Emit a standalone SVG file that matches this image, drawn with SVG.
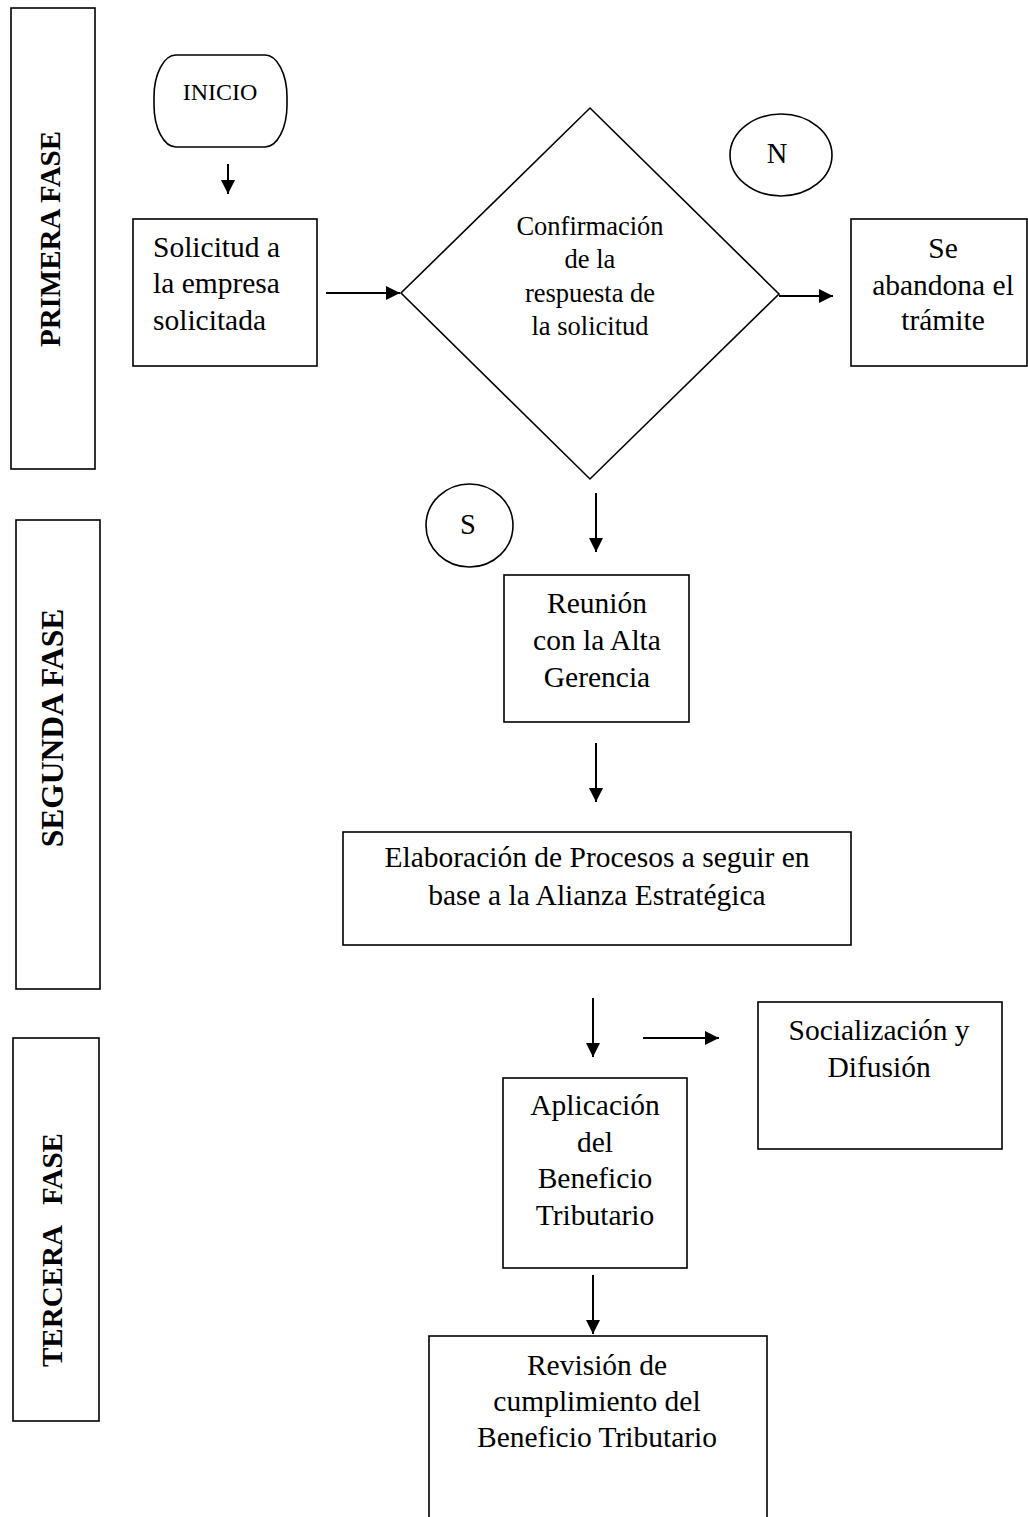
<svg xmlns="http://www.w3.org/2000/svg" width="1028" height="1517" viewBox="0 0 1028 1517">
<style>
.box{fill:#fff;stroke:#000;stroke-width:1.6}
.t{font-family:"Liberation Serif","Times New Roman",serif;font-size:29.5px;text-anchor:middle;fill:#000}
.d{font-size:26.5px}
.ph{font-family:"Liberation Serif","Times New Roman",serif;font-weight:bold;font-size:29px;text-anchor:middle;fill:#000;white-space:pre}
.c{stroke:#000;stroke-width:2;fill:none}
</style>
<defs>
<marker id="ah" markerUnits="userSpaceOnUse" markerWidth="16" markerHeight="16" refX="14" refY="7" orient="auto">
<path d="M0,0 L14,7 L0,14 Z" fill="#000"/>
</marker>
</defs>
<g id="fase1">
<rect class="box" x="11" y="8" width="84" height="461"/>
<text class="ph" transform="translate(60,239) rotate(-90)">PRIMERA FASE</text>
</g>
<g id="fase2">
<rect class="box" x="16" y="520" width="84" height="469"/>
<text class="ph" transform="translate(63,728) rotate(-90)" style="font-size:31.5px">SEGUNDA FASE</text>
</g>
<g id="fase3">
<rect class="box" x="13" y="1038" width="86" height="383"/>
<text class="ph" transform="translate(62,1250) rotate(-90)">TERCERA   FASE</text>
</g>
<g id="inicio">
<rect class="box" x="154" y="55" width="133" height="92" rx="22" ry="42"/>
<text class="t" x="220" y="100" style="font-size:24px">INICIO</text>
</g>
<g id="solicitud">
<rect class="box" x="133" y="219" width="184" height="147"/>
<text class="t" x="153" y="257" style="text-anchor:start">Solicitud a</text>
<text class="t" x="153" y="293" style="text-anchor:start">la empresa</text>
<text class="t" x="153" y="330" style="text-anchor:start">solicitada</text>
</g>
<g id="confirmacion">
<polygon class="box" points="590,108 779,294 590,479 401,293"/>
<text class="t d" x="590" y="235">Confirmación</text>
<text class="t d" x="590" y="268">de la</text>
<text class="t d" x="590" y="302">respuesta de</text>
<text class="t d" x="590" y="335">la solicitud</text>
</g>
<g id="n">
<ellipse class="box" cx="781" cy="155" rx="51" ry="41"/>
<text class="t" x="777" y="163" style="font-size:28.5px">N</text>
</g>
<g id="abandona">
<rect class="box" x="851" y="219" width="176" height="147"/>
<text class="t" x="943" y="258">Se</text>
<text class="t" x="943" y="295">abandona el</text>
<text class="t" x="943" y="330">trámite</text>
</g>
<g id="s">
<ellipse class="box" cx="469.5" cy="525.5" rx="43.5" ry="41.5"/>
<text class="t" x="468" y="534" style="font-size:28.5px">S</text>
</g>
<g id="reunion">
<rect class="box" x="504" y="575" width="185" height="147"/>
<text class="t" x="597" y="613">Reunión</text>
<text class="t" x="597" y="650">con la Alta</text>
<text class="t" x="597" y="687">Gerencia</text>
</g>
<g id="elaboracion">
<rect class="box" x="343" y="832" width="508" height="113"/>
<text class="t" x="597" y="867">Elaboración de Procesos a seguir en</text>
<text class="t" x="597" y="905">base a la Alianza Estratégica</text>
</g>
<g id="socializacion">
<rect class="box" x="758" y="1002" width="244" height="147"/>
<text class="t" x="879" y="1040">Socialización y</text>
<text class="t" x="879" y="1077">Difusión</text>
</g>
<g id="aplicacion">
<rect class="box" x="503" y="1078" width="184" height="190"/>
<text class="t" x="595" y="1115">Aplicación</text>
<text class="t" x="595" y="1152">del</text>
<text class="t" x="595" y="1188">Beneficio</text>
<text class="t" x="595" y="1225">Tributario</text>
</g>
<g id="revision">
<rect class="box" x="429" y="1336" width="338" height="200"/>
<text class="t" x="597" y="1375">Revisión de</text>
<text class="t" x="597" y="1411">cumplimiento del</text>
<text class="t" x="597" y="1447">Beneficio Tributario</text>
</g>
<g id="connectors">
<line class="c" x1="228" y1="164" x2="228" y2="194" marker-end="url(#ah)"/>
<line class="c" x1="326" y1="293" x2="400" y2="293" marker-end="url(#ah)"/>
<line class="c" x1="779" y1="296" x2="833" y2="296" marker-end="url(#ah)"/>
<line class="c" x1="596" y1="493" x2="596" y2="552" marker-end="url(#ah)"/>
<line class="c" x1="596" y1="743" x2="596" y2="802" marker-end="url(#ah)"/>
<line class="c" x1="593" y1="998" x2="593" y2="1057" marker-end="url(#ah)"/>
<line class="c" x1="643" y1="1038" x2="719" y2="1038" marker-end="url(#ah)"/>
<line class="c" x1="593" y1="1275" x2="593" y2="1334" marker-end="url(#ah)"/>
</g>
</svg>
